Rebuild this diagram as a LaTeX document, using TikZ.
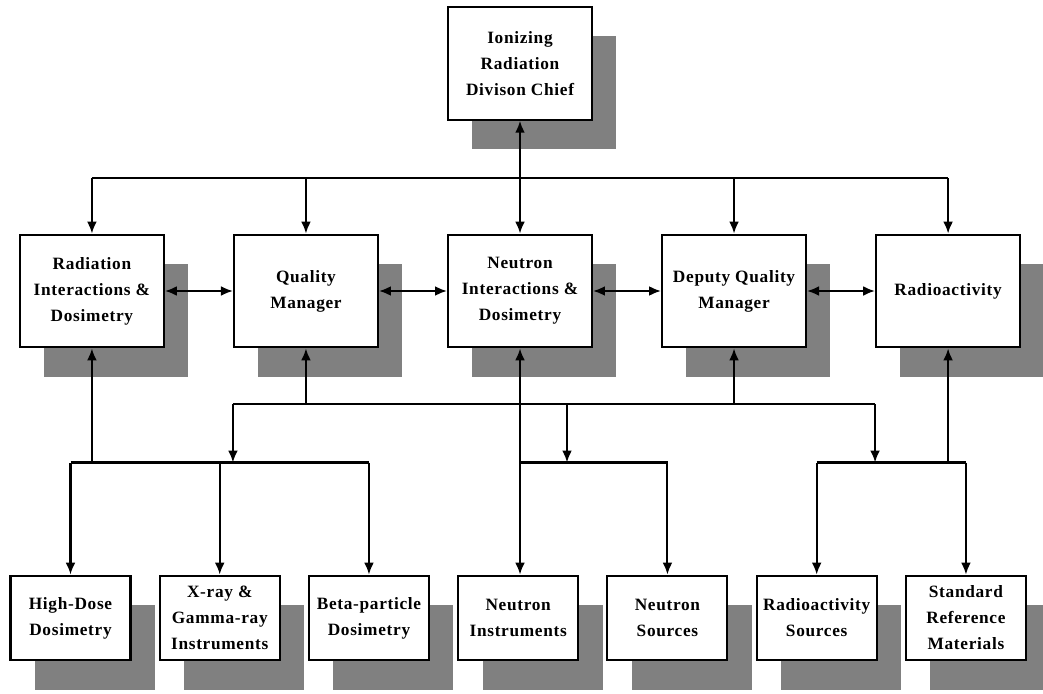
\documentclass[tikz,border=0pt]{standalone}
\usepackage{fontspec}
\setmainfont{Liberation Serif}
\newfontfamily\boxfont[LetterSpace=4]{Liberation Serif}
\usetikzlibrary{arrows.meta, positioning}
\usetikzlibrary{shadows}

\begin{document}
\begin{tikzpicture}[
		node distance=1.7cm and 1.7cm,
		every node/.style={font=\boxfont\bfseries\fontsize{12.3}{18.5}\selectfont},
		unit/.style={
			rectangle,
			draw,
			line width=1.45pt,
			fill=white,
			align=center,
			minimum width=3.6cm,
			minimum height=2.82cm,
			drop shadow={shadow xshift=0.61cm, shadow yshift=-0.73cm,
				fill=black!50, draw=none, opacity=1}
		},
		group/.style={
			unit,
			minimum width=3.0cm,
			minimum height=2.12cm
		},
		link/.style={line width=1.45pt},
		arrow/.style={
			->,
			link,
			>={Latex[length=8.5pt,width=7pt]}
		},
		twoway/.style={
			<->,
			link,
			>={Latex[length=8.5pt,width=7pt]}
		}
		]
		\useasboundingbox (0,0) rectangle (26.075,-17.325);
		
		% Nodes
		\node[unit] (nid) at (13,-7.275) {Neutron\\Interactions \&\\Dosimetry};
		\node[unit, above=2.82cm of nid] (chief) {Ionizing\\Radiation\\Divison Chief};
		\node[unit, left=of nid] (qm) {Quality\\Manager};
		\node[unit, left=of qm] (rid) {Radiation\\Interactions \&\\Dosimetry};
		\node[unit, right=of nid] (dqm) {Deputy Quality\\Manager};
		\node[unit, right=of dqm] (radio) {Radioactivity};
		
		\node[group] (hd) at (1.7625,-15.45) {High-Dose\\Dosimetry};
		\node[group, right=0.68cm of hd] (xray) {X-ray \&\\Gamma-ray\\Instruments};
		\node[group, right=0.68cm of xray] (beta) {Beta-particle\\Dosimetry};
		\node[group, right=0.68cm of beta] (ni) {Neutron\\Instruments};
		\node[group, right=0.68cm of ni] (ns) {Neutron\\Sources};
		\node[group, right=0.68cm of ns] (rs) {Radioactivity\\Sources};
		\node[group, right=0.68cm of rs] (srm) {Standard\\Reference\\Materials};
		
		% bus levels
		\coordinate (topbus) at (0,-4.45);
		\coordinate (midbus) at (0,-10.1);
		\coordinate (lowbus) at (0,-11.5625);
		\coordinate (nbranch) at (14.175,0);
		
		% Arrows (chief to the five units)
		\draw[twoway] (chief) -- (nid);
		\draw[link] (rid.north |- topbus) -- (radio.north |- topbus);
		\foreach \n in {rid,qm,dqm,radio}
			\draw[arrow] (\n.north |- topbus) -- (\n.north);
		
		% Arrows (between units)
		\draw[twoway] (rid) -- (qm);
		\draw[twoway] (qm) -- (nid);
		\draw[twoway] (nid) -- (dqm);
		\draw[twoway] (dqm) -- (radio);
		
		% quality managers' line
		\draw[link] (qm.south west |- midbus) -- (radio.south west |- midbus);
		\draw[arrow] (qm.south |- midbus) -- (qm.south);
		\draw[arrow] (dqm.south |- midbus) -- (dqm.south);
		\draw[arrow] (qm.south west |- midbus) -- (qm.south west |- lowbus);
		\draw[arrow] (nbranch |- midbus) -- (nbranch |- lowbus);
		\draw[arrow] (radio.south west |- midbus) -- (radio.south west |- lowbus);
		
		% groups of radiation interactions
		\draw[arrow] (rid.south |- lowbus) -- (rid.south);
		\draw[link] (hd.north |- lowbus) -- (beta.north |- lowbus);
		\foreach \n in {hd,xray,beta}
			\draw[arrow] (\n.north |- lowbus) -- (\n.north);
		
		% groups of neutron interactions
		\draw[twoway] (nid.south) -- (nid.south |- ni.north);
		\draw[arrow] (nid.south |- lowbus) -| (ns.north);
		
		% groups of radioactivity
		\draw[arrow] (radio.south |- lowbus) -- (radio.south);
		\draw[link] (rs.north |- lowbus) -- (srm.north |- lowbus);
		\foreach \n in {rs,srm}
			\draw[arrow] (\n.north |- lowbus) -- (\n.north);
		
	\end{tikzpicture}
\end{document}
